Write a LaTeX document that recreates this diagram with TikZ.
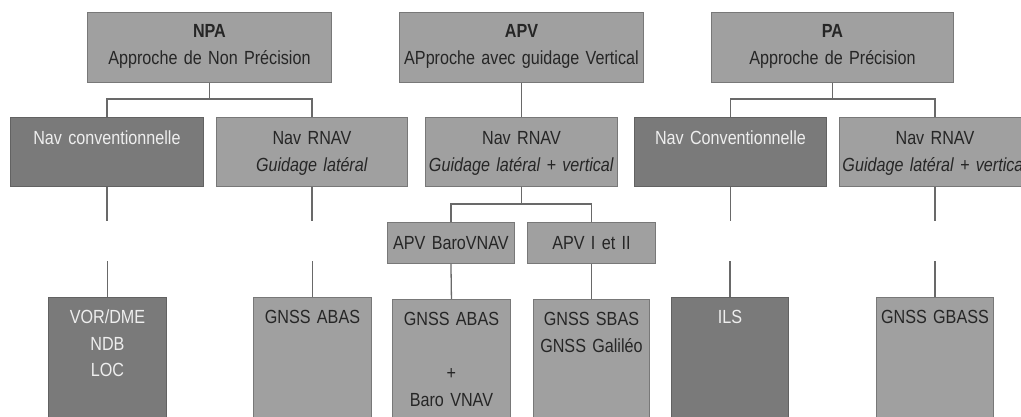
\documentclass[tikz,border=0pt]{standalone}
\usepackage{fontspec}
\setmainfont{Liberation Sans}[FakeStretch=0.85]
\usetikzlibrary{calc}
\definecolor{lightbox}{RGB}{160,160,160}
\definecolor{darkbox}{RGB}{122,122,122}
\definecolor{lightedge}{RGB}{120,120,120}
\definecolor{darkedge}{RGB}{98,98,98}
\definecolor{linecol}{RGB}{105,105,105}
\definecolor{darktext}{RGB}{38,38,38}
\definecolor{lighttext}{RGB}{238,238,238}
\begin{document}
\begin{tikzpicture}[x=1pt,y=-1pt,
  lbox/.style={draw=lightedge, fill=lightbox, line width=0.9pt, inner sep=0pt, anchor=north west},
  dbox/.style={draw=darkedge, fill=darkbox, line width=0.9pt, inner sep=0pt, anchor=north west},
  txt/.style={inner sep=0pt, anchor=base, align=center, text width=260pt, font=\fontsize{19pt}{27pt}\selectfont, text=darktext},
  txtl/.style={txt, text=lighttext},
  conn/.style={draw=linecol, line width=1.3pt}
]
\useasboundingbox (0,0) rectangle (1021,417);
\clip (0,0) rectangle (1021,417);
\fill[white] (0,0) rectangle (1021,417);

% top row
\node[lbox, minimum width=244pt, minimum height=70pt] (npa) at (87,12) {};
\node[lbox, minimum width=244pt, minimum height=70pt] (apv) at (399,12) {};
\node[lbox, minimum width=242pt, minimum height=70pt] (pa) at (711,12) {};
\node[txt] (npat) at ($(npa.north)+(0,26)$) {\textbf{NPA}\\Approche de Non Précision};
\node[txt] (apvt) at ($(apv.north)+(0,26)$) {\textbf{APV}\\APproche avec guidage Vertical};
\node[txt] (pat) at ($(pa.north)+(0,26)$) {\textbf{PA}\\Approche de Précision};

% second row
\node[dbox, minimum width=193pt, minimum height=69pt] (navconv) at (10,117) {};
\node[lbox, minimum width=191pt, minimum height=69pt] (nprnav) at (216,117) {};
\node[lbox, minimum width=192pt, minimum height=69pt] (aprnav) at (425,117) {};
\node[dbox, minimum width=192pt, minimum height=69pt] (paconv) at (634,117) {};
\node[lbox, minimum width=191pt, minimum height=69pt] (parnav) at (839,117) {};
\node[txtl] (navconvt) at ($(navconv.north)+(0,28)$) {Nav conventionnelle};
\node[txt] (nprnavt) at ($(nprnav.north)+(0,28)$) {Nav RNAV\\\textit{Guidage latéral}};
\node[txt] (aprnavt) at ($(aprnav.north)+(0,28)$) {Nav RNAV\\\textit{Guidage latéral + vertical}};
\node[txtl] (paconvt) at ($(paconv.north)+(0,28)$) {Nav Conventionnelle};
\node[txt] (parnavt) at ($(parnav.north)+(0,28)$) {Nav RNAV\\\textit{Guidage latéral + vertical}};

% APV middle row
\node[lbox, minimum width=127pt, minimum height=41pt] (baro) at (387,222) {};
\node[lbox, minimum width=128pt, minimum height=41pt] (apv12) at (527,222) {};
\node[txt] (barot) at ($(baro.center)+(0,7)$) {APV BaroVNAV};
\node[txt] (apv12t) at ($(apv12.center)+(0,7)$) {APV I et II};

% bottom row
\node[dbox, minimum width=118pt, minimum height=150pt] (vor) at (48,297) {};
\node[lbox, minimum width=118pt, minimum height=150pt] (abas) at (253,297) {};
\node[lbox, minimum width=118pt, minimum height=150pt] (apvabas) at (392,299) {};
\node[lbox, minimum width=116pt, minimum height=150pt] (sbas) at (533,299) {};
\node[dbox, minimum width=117pt, minimum height=150pt] (ils) at (671,297) {};
\node[lbox, minimum width=117pt, minimum height=150pt] (gbass) at (876,297) {};
\node[txtl] (vort) at ($(vor.north)+(0,26)$) {VOR/DME\\NDB\\LOC};
\node[txt] (abast) at ($(abas.north)+(0,26)$) {GNSS ABAS};
\node[txt] (apvabast) at ($(apvabas.north)+(0,26)$) {GNSS ABAS\\[0pt]\mbox{}\\+\\Baro VNAV};
\node[txt] (sbast) at ($(sbas.north)+(0,26)$) {GNSS SBAS\\GNSS Galiléo};
\node[txtl] (ilst) at ($(ils.north)+(0,26)$) {ILS};
\node[txt] (gbasst) at ($(gbass.north)+(0,26)$) {GNSS GBASS};

% connectors
\draw[conn] (npa.south) -- ++(0,16) -| (navconv.north);
\draw[conn] (npa.south) -- ++(0,16) -| (nprnav.north);
\draw[conn] (apv.south) -- (aprnav.north);
\draw[conn] (pa.south) -- ++(0,16) -| (paconv.north);
\draw[conn] (pa.south) -- ++(0,16) -| (parnav.north);

\draw[conn] (navconv.south) -- ++(0,34);
\draw[conn] (vor.north) -- ++(0,-36);
\draw[conn] (nprnav.south) -- ++(0,34);
\draw[conn] (abas.north) -- ++(0,-36);
\draw[conn] (paconv.south) -- ++(0,34);
\draw[conn] (ils.north) -- ++(0,-36);
\draw[conn] (parnav.south) -- ++(0,34);
\draw[conn] (gbass.north) -- ++(0,-36);

\draw[conn] (aprnav.south) -- ++(0,17) -| (baro.north);
\draw[conn] (aprnav.south) -- ++(0,17) -| (apv12.north);
\draw[conn] (baro.south) -- (apvabas.north);
\draw[conn] (apv12.south) -- (sbas.north);
\end{tikzpicture}
\end{document}
